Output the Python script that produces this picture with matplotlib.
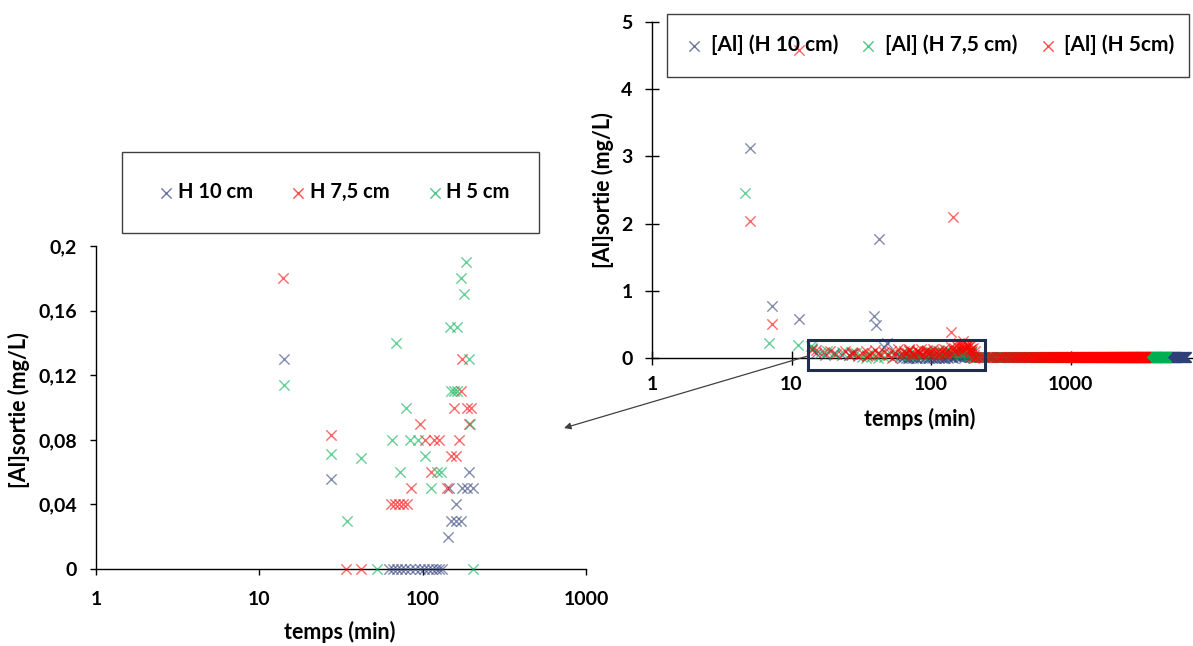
import numpy as np
import matplotlib
matplotlib.use("Agg")
import matplotlib.pyplot as plt
from matplotlib.patches import Rectangle, ConnectionPatch
from matplotlib.ticker import FixedLocator, NullLocator

plt.rcParams['font.family'] = ['Lato', 'DejaVu Sans']
plt.rcParams['font.weight'] = 'bold'

# ---------------- data: left (zoom) chart ----------------
left_h10_t = [14.1, 27.3, 192, 145, 175, 188, 202, 159, 149, 159, 171, 142,
              62, 66, 70, 74, 78, 84, 90, 96, 102, 108, 114, 120, 126, 132]
left_h10_v = [0.13, 0.056, 0.06, 0.05, 0.05, 0.05, 0.05, 0.04, 0.03, 0.03, 0.03, 0.02,
              0, 0, 0, 0, 0, 0, 0, 0, 0, 0, 0, 0, 0, 0]

left_h75_t = [13.9, 27.3, 96, 104, 117, 126, 167, 156, 188, 197, 171, 175, 192,
              149, 159, 112, 85, 141, 64, 68, 72, 76, 80, 34, 42]
left_h75_v = [0.18, 0.083, 0.09, 0.08, 0.08, 0.08, 0.08, 0.10, 0.10, 0.10, 0.11, 0.13, 0.09,
              0.07, 0.07, 0.06, 0.05, 0.05, 0.04, 0.04, 0.04, 0.04, 0.04, 0, 0]

left_h5_t = [185, 171, 178, 147, 163, 69, 192, 14.1, 149, 156, 163, 79, 195,
             65, 84, 93, 27.3, 42, 103, 73, 123, 129, 113, 34.5, 52.7, 204]
left_h5_v = [0.19, 0.18, 0.17, 0.15, 0.15, 0.14, 0.13, 0.114, 0.11, 0.11, 0.11, 0.10, 0.09,
             0.08, 0.08, 0.08, 0.071, 0.069, 0.07, 0.06, 0.06, 0.06, 0.05, 0.03, 0, 0]

left_labels = ['H 10 cm', 'H 7,5 cm', 'H 5 cm']
left_xticks = [1, 10, 100, 1000]
left_xticklabels = ['1', '10', '100', '1000']
left_yticks = [0, 0.04, 0.08, 0.12, 0.16, 0.2]
left_yticklabels = ['0', '0,04', '0,08', '0,12', '0,16', '0,2']

# ---------------- data: right (full) chart ----------------
right_h10_t = [5.06, 7.2, 11.3, 42.4, 39, 40.5, 46, 48,
               15, 17.5, 20, 23, 55, 60, 64, 68, 72, 76, 80, 85, 90, 95, 100, 106,
               112, 118, 124, 130, 137, 144, 151, 158, 165, 172, 180, 188]
right_h10_v = [3.12, 0.77, 0.58, 1.77, 0.63, 0.495, 0.17, 0.22,
               0.08, 0.05, 0.07, 0.04, 0.03, 0.01, 0.02, 0.0, 0.01, 0.02, 0.0, 0.01, 0.02, 0.0, 0.01, 0.0,
               0.02, 0.01, 0.0, 0.02, 0.01, 0.0, 0.03, 0.01, 0.02, 0.0, 0.03, 0.02]

right_h75_t = [4.65, 6.9, 11.2,
               14, 16, 18, 20, 23, 26, 29, 32, 35, 38, 42, 46, 50, 55, 60, 65, 70, 76, 82,
               88, 94, 100, 107, 114, 121, 128, 136, 144, 152, 160, 168, 176, 184]
right_h75_v = [2.45, 0.23, 0.2,
               0.15, 0.08, 0.1, 0.06, 0.09, 0.04, 0.07, 0.02, 0.05, 0.03, 0.06, 0.02, 0.05, 0.08,
               0.04, 0.07, 0.1, 0.06, 0.09, 0.05, 0.11, 0.08, 0.06, 0.1, 0.07, 0.12, 0.09, 0.06,
               0.11, 0.08, 0.1, 0.07, 0.05]

right_h5_t = [5.06, 7.2, 11.4, 143.5, 140,
              15, 17, 19, 21, 24, 26, 28, 30, 32, 34, 36, 38, 40, 43, 46, 49, 52, 55, 58, 61,
              64, 67, 70, 73, 76, 79, 82, 85, 88, 91, 94, 97, 100, 104, 108, 112, 116, 120,
              124, 128, 132, 136, 140, 145, 150, 155, 160, 165, 170, 175, 180, 185, 190, 195,
              200, 205]
right_h5_v = [2.04, 0.51, 4.58, 2.095, 0.38,
              0.12, 0.09, 0.11, 0.06, 0.1, 0.05, 0.08, 0.03, 0.07, 0.1, 0.04, 0.08, 0.12, 0.06,
              0.09, 0.05, 0.11, 0.08, 0.13, 0.06, 0.1, 0.07, 0.12, 0.09, 0.05, 0.11, 0.08, 0.14,
              0.06, 0.1, 0.12, 0.07, 0.09, 0.13, 0.08, 0.11, 0.06, 0.1, 0.14, 0.09, 0.12, 0.07,
              0.16, 0.11, 0.2, 0.15, 0.22, 0.18, 0.25, 0.14, 0.2, 0.17, 0.12, 0.19, 0.15, 0.1]

# long, densely-sampled tail of each run (read: start, end, sampling step, level)
tail_start = {'h10': 190, 'h75': 190, 'h5': 195}
tail_end = {'h10': 6700, 'h75': 4850, 'h5': 3430}
tail_step = 10
tail_level = {'h10': 0.01, 'h75': 0.02, 'h5': 0.02}

right_labels = ['[Al] (H 10 cm)', '[Al] (H 7,5 cm)', '[Al] (H 5cm)']
right_xticks = [1, 10, 100, 1000]
right_xticklabels = ['1', '10', '100', '1000']
right_yticks = [0, 1, 2, 3, 4, 5]
right_yticklabels = ['0', '1', '2', '3', '4', '5']

# zoom frame on the right chart (data coords)
frame_t = (13.1, 245)
frame_v = (-0.18, 0.27)

# ---------------- style ----------------
BLUE = '#2E3F7A'
RED = '#FF0000'
GREEN = '#00B050'
W, H = 1193, 646
fig = plt.figure(figsize=(W / 100, H / 100), dpi=100)

def px_axes(x0, x1, ytop, ybot):
    return fig.add_axes([x0 / W, 1 - ybot / H, (x1 - x0) / W, (ybot - ytop) / H])

MS = 55
LW = 1.0
AL = 0.6
TICK_FS = 14
LAB_FS = 15.5
LEG_FS = 14.5

# ---------------- left chart ----------------
ax1 = px_axes(96, 586, 246, 569)
ax1.set_xscale('log')
ax1.set_xlim(1, 1000)
ax1.set_ylim(0, 0.2)
s1 = ax1.scatter(left_h10_t, left_h10_v, marker='x', s=MS, linewidths=LW, color=BLUE, alpha=AL, clip_on=False, zorder=3)
s2 = ax1.scatter(left_h75_t, left_h75_v, marker='x', s=MS, linewidths=LW, color=RED, alpha=AL, clip_on=False, zorder=3)
s3 = ax1.scatter(left_h5_t, left_h5_v, marker='x', s=MS, linewidths=LW, color=GREEN, alpha=AL, clip_on=False, zorder=3)
for sp in ['top', 'right']:
    ax1.spines[sp].set_visible(False)
for sp in ['left', 'bottom']:
    ax1.spines[sp].set_linewidth(1.0)
ax1.xaxis.set_major_locator(FixedLocator(left_xticks))
ax1.xaxis.set_minor_locator(NullLocator())
ax1.set_xticklabels(left_xticklabels)
ax1.set_yticks(left_yticks)
ax1.set_yticklabels(left_yticklabels)
ax1.tick_params(direction='out', length=4.5, width=1, labelsize=TICK_FS)
ax1.tick_params(axis='x', pad=11)
ax1.tick_params(axis='y', pad=9)
ax1.set_xlabel('temps (min)', fontsize=LAB_FS, fontweight='bold')
ax1.set_ylabel('[Al]sortie (mg/L)', fontsize=LAB_FS, fontweight='bold')
ax1.xaxis.set_label_coords(0.498, -0.160)
ax1.yaxis.set_label_coords(-0.135, 0.492)

# left legend box
fig.add_artist(Rectangle((122 / W, 1 - 233 / H), (539 - 122) / W, (233 - 152) / H,
                         transform=fig.transFigure, facecolor='none', edgecolor='#404040', lw=1.0))
leg1 = fig.legend([s1, s2, s3], left_labels, loc='center', bbox_to_anchor=(333 / W, 1 - 192 / H),
                  ncol=3, frameon=False, fontsize=LEG_FS, handletextpad=0.08, columnspacing=1.75,
                  handlelength=1.0, scatterpoints=1)
for h in leg1.legend_handles:
    h.set_alpha(0.7)

# ---------------- right chart ----------------
ax2 = px_axes(652, 1193, 22, 358)
ax2.set_xscale('log')
ax2.set_xlim(1, 7550)
ax2.set_ylim(0, 5)

def tail(key):
    t = np.arange(tail_start[key], tail_end[key] + 1, tail_step)
    return t, np.full(t.shape, tail_level[key])

tb, vb = tail('h10')
tg, vg = tail('h75')
tr, vr = tail('h5')
r1 = ax2.scatter(right_h10_t + list(left_h10_t), right_h10_v + list(left_h10_v), marker='x', s=MS,
                 linewidths=LW, color=BLUE, alpha=AL, clip_on=False, zorder=3)
ax2.scatter(tb, vb, marker='x', s=MS, linewidths=LW, color=BLUE, alpha=AL, clip_on=False, zorder=3)
r2 = ax2.scatter(right_h75_t + list(left_h75_t), right_h75_v + list(left_h75_v), marker='x', s=MS,
                 linewidths=LW, color=GREEN, alpha=AL, clip_on=False, zorder=3)
ax2.scatter(tg, vg, marker='x', s=MS, linewidths=LW, color=GREEN, alpha=AL, clip_on=False, zorder=3)
r3 = ax2.scatter(right_h5_t + list(left_h5_t), right_h5_v + list(left_h5_v), marker='x', s=MS,
                 linewidths=LW, color=RED, alpha=AL, clip_on=False, zorder=3)
ax2.scatter(tr, vr, marker='x', s=MS, linewidths=LW, color=RED, alpha=AL, clip_on=False, zorder=3)

for sp in ['top', 'right']:
    ax2.spines[sp].set_visible(False)
for sp in ['left', 'bottom']:
    ax2.spines[sp].set_linewidth(1.0)
ax2.xaxis.set_major_locator(FixedLocator(right_xticks))
ax2.xaxis.set_minor_locator(NullLocator())
ax2.set_xticklabels(right_xticklabels)
ax2.set_yticks(right_yticks)
ax2.set_yticklabels(right_yticklabels)
ax2.tick_params(direction='inout', length=10, width=1, labelsize=TICK_FS)
ax2.tick_params(axis='x', pad=8)
ax2.tick_params(axis='y', pad=9)
ax2.set_xlabel('temps (min)', fontsize=LAB_FS, fontweight='bold')
ax2.set_ylabel('[Al]sortie (mg/L)', fontsize=LAB_FS, fontweight='bold')
ax2.xaxis.set_label_coords(0.495, -0.150)
ax2.yaxis.set_label_coords(-0.070, 0.5)

fig.add_artist(Rectangle((667 / W, 1 - 77 / H), (1189 - 667) / W, (77 - 14) / H,
                         transform=fig.transFigure, facecolor='none', edgecolor='#404040', lw=1.0, zorder=1))
leg2 = fig.legend([r1, r2, r3], right_labels, loc='center', bbox_to_anchor=(929 / W, 1 - 45 / H),
                  ncol=3, frameon=False, fontsize=15, handletextpad=0.3, columnspacing=0.95,
                  handlelength=1.0, scatterpoints=1)
leg2.set_zorder(1)
for h in leg2.legend_handles:
    h.set_alpha(0.7)

# zoom frame and arrow
ax2.add_patch(Rectangle((frame_t[0], frame_v[0]), frame_t[1] - frame_t[0], frame_v[1] - frame_v[0],
                        facecolor='none', edgecolor='#1F2D4F', lw=2.2, clip_on=False, zorder=5))
con = ConnectionPatch(xyA=(frame_t[0], 0.03), coordsA=ax2.transData,
                      xyB=(733, 0.0873), coordsB=ax1.transData,
                      arrowstyle='-|>', mutation_scale=10, color='#404040', lw=0.9)
fig.add_artist(con)

fig.savefig('out.png', dpi=100, facecolor='white')
